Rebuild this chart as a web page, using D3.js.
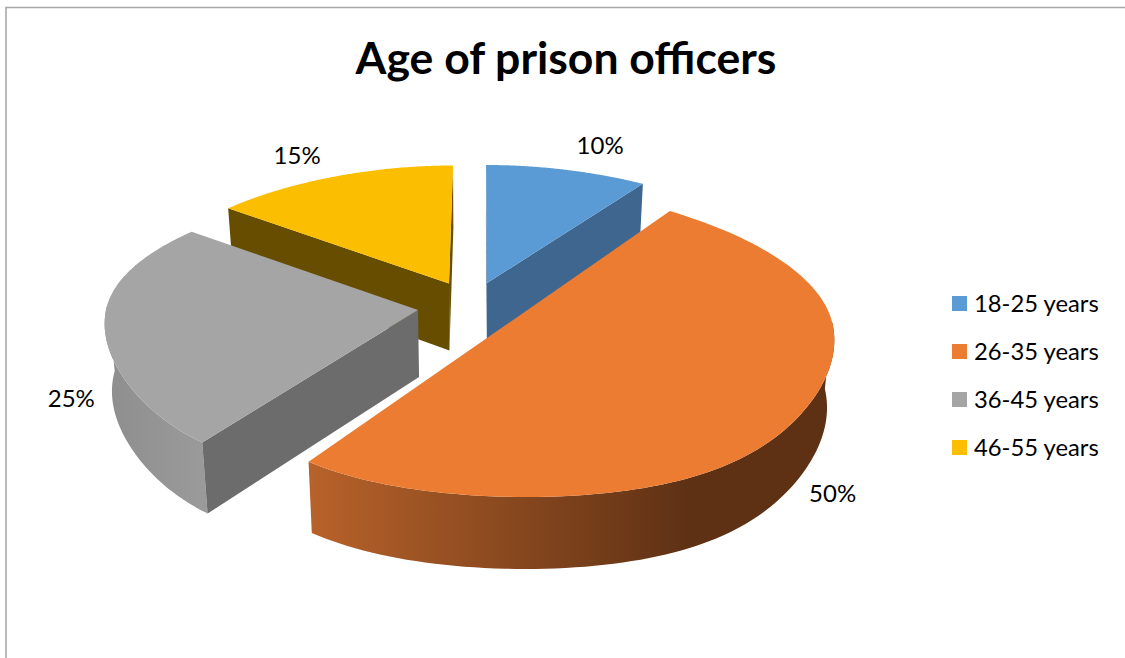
<!DOCTYPE html>
<html>
<head>
<meta charset="utf-8">
<script src="https://cdn.jsdelivr.net/npm/d3@7/dist/d3.min.js"></script>
<style>
  html, body { margin: 0; padding: 0; background: #fff; }
  svg { display: block; }
  text { font-family: Lato, "Open Sans", sans-serif; fill: #000; }
</style>
</head>
<body>
<svg id="chart" width="1125" height="658"></svg>
<script>
// Chart content
const titleText = "Age of prison officers";
const categories = ["18-25 years", "26-35 years", "36-45 years", "46-55 years"];
const shares = [10, 50, 25, 15];

// Face colours per category
const topColours = ["#5B9BD5", "#EB7C31", "#A5A5A5", "#FBBE00"];
const wallColours = ["#3E668F", "#5E3114", "#6C6C6C", "#664D00"];
const rimStart = ["#3E668F", "#B8622A", "#8E8E8E", "#664D00"];
const rimEnd = ["#3E668F", "#5E3114", "#9A9A9A", "#664D00"];

// Where each exploded wedge sits, and how it is foreshortened
const wedgeAnchorX = [487, 515, 418, 449];
const wedgeAnchorY = [283, 326, 310, 283.5];
const wedgeVanishX = [482, 470, 470, 470];
const wedgeRadiusX = [309, 318, 312, 301];
const wedgeDepthY = [142, 155, 146, 142];
const wedgeDepthCurve = [24, 16, 22, 24];
const labelShiftX = [35.5, 40, -34, -40.5];
const labelShiftY = [-24, 71, 65.5, -20];

// Perspective settings shared by all wedges
const growLinear = 0.08;
const growNear = 0.17;
const growFar = -0.112;
const baseShrink = 0.98;
const thickness = 67;
const thicknessNear = 5;

const svg = d3.select("#chart");
const defs = svg.append("defs");

// Project a point of a wedge's top face: angle clockwise from 12 o'clock, r in 0..1
function projectTop(i, angle, r) {
  const X = r * Math.sin(angle);
  const Y = -r * Math.cos(angle);
  const grow = 1 + growLinear * Y + (Y > 0 ? growNear * Y * Y * Y * Y : growFar * Y * Y);
  const vx = wedgeVanishX[i];
  return [
    vx + (wedgeAnchorX[i] - vx + X * wedgeRadiusX[i]) * grow,
    wedgeAnchorY[i] + Y * (wedgeDepthY[i] + wedgeDepthCurve[i] * Y)
  ];
}

// The same point pushed down to the underside of the wedge
function projectBase(i, angle, r) {
  const [x, y] = projectTop(i, angle, r);
  const Y = -r * Math.cos(angle);
  const vx = wedgeVanishX[i];
  return [vx + (x - vx) * baseShrink, y + thickness + thicknessNear * Y];
}

const pie = d3.pie().sort(null).value(d => d)(shares);
const line = d3.line();
const arcAngles = (a0, a1) => d3.range(0, 121).map(k => a0 + (a1 - a0) * k / 120);

const colourTop = d3.scaleOrdinal(categories, topColours);

// Page frame along the top and left edges
svg.append("path")
  .attr("d", "M6,658 V7.5 H1125")
  .attr("fill", "none")
  .attr("stroke", "#A9A9A9")
  .attr("stroke-width", 1.6);

svg.append("text")
  .attr("x", 566)
  .attr("y", 74)
  .attr("text-anchor", "middle")
  .attr("font-size", 44.5)
  .attr("font-weight", 700)
  .text(titleText);

// Painter's order: far wedges first, the nearest wedge last
const drawOrder = [3, 0, 2, 1];
const wedges = svg.append("g").attr("class", "wedges");

drawOrder.forEach(i => {
  const { startAngle: a0, endAngle: a1 } = pie[i];
  const g = wedges.append("g");

  // Curved rim, only the part turned toward the viewer
  const rim = arcAngles(a0, a1).filter(a => -Math.cos(a) > -0.05);
  if (rim.length > 1) {
    const gradId = "rim-" + i;
    const topPts = rim.map(a => projectTop(i, a, 1));
    const basePts = rim.map(a => projectBase(i, a, 1));
    const xs = topPts.map(p => p[0]);
    const grad = defs.append("linearGradient")
      .attr("id", gradId)
      .attr("gradientUnits", "userSpaceOnUse")
      .attr("x1", d3.min(xs)).attr("x2", i === 1 ? 690 : d3.max(xs))
      .attr("y1", 0).attr("y2", 0);
    grad.append("stop").attr("offset", 0).attr("stop-color", rimStart[i]);
    grad.append("stop").attr("offset", 1).attr("stop-color", rimEnd[i]);
    g.append("path")
      .attr("d", line(topPts.concat(basePts.reverse())) + "Z")
      .attr("fill", `url(#${gradId})`);
  }

  // Flat cut faces that look toward the viewer
  [[a0, -Math.sin(a0)], [a1, Math.sin(a1)]].forEach(([a, facing]) => {
    if (facing < -1e-6) return;
    const pts = [
      projectTop(i, a, 0), projectTop(i, a, 1),
      projectBase(i, a, 1), projectBase(i, a, 0)
    ];
    g.append("path").attr("d", line(pts) + "Z").attr("fill", wallColours[i]);
  });

  // Top face; a half-pie closes straight across its diameter
  const isHalf = a1 - a0 >= Math.PI - 1e-6;
  const face = arcAngles(a0, a1).map(a => projectTop(i, a, 1));
  if (!isHalf) face.push(projectTop(i, 0, 0));
  g.append("path").attr("d", line(face) + "Z").attr("fill", colourTop(categories[i]));
});

// Percentage labels beyond each wedge's rim
svg.append("g").selectAll("text")
  .data(pie)
  .join("text")
  .attr("x", (d, i) => projectTop(i, (d.startAngle + d.endAngle) / 2, 1)[0] + labelShiftX[i])
  .attr("y", (d, i) => projectTop(i, (d.startAngle + d.endAngle) / 2, 1)[1] + labelShiftY[i] + 8)
  .attr("text-anchor", "middle")
  .attr("font-size", 24)
  .text(d => d.value + "%");

// Legend
const legendY = d3.scalePoint().domain(categories).range([303.5, 447.5]);
const legend = svg.append("g").selectAll("g")
  .data(categories)
  .join("g")
  .attr("transform", d => `translate(952,${legendY(d)})`);
legend.append("rect")
  .attr("y", -7.5)
  .attr("width", 15)
  .attr("height", 15)
  .attr("fill", d => colourTop(d));
legend.append("text")
  .attr("x", 22)
  .attr("y", 8)
  .attr("font-size", 23.8)
  .text(d => d);
</script>
</body>
</html>
